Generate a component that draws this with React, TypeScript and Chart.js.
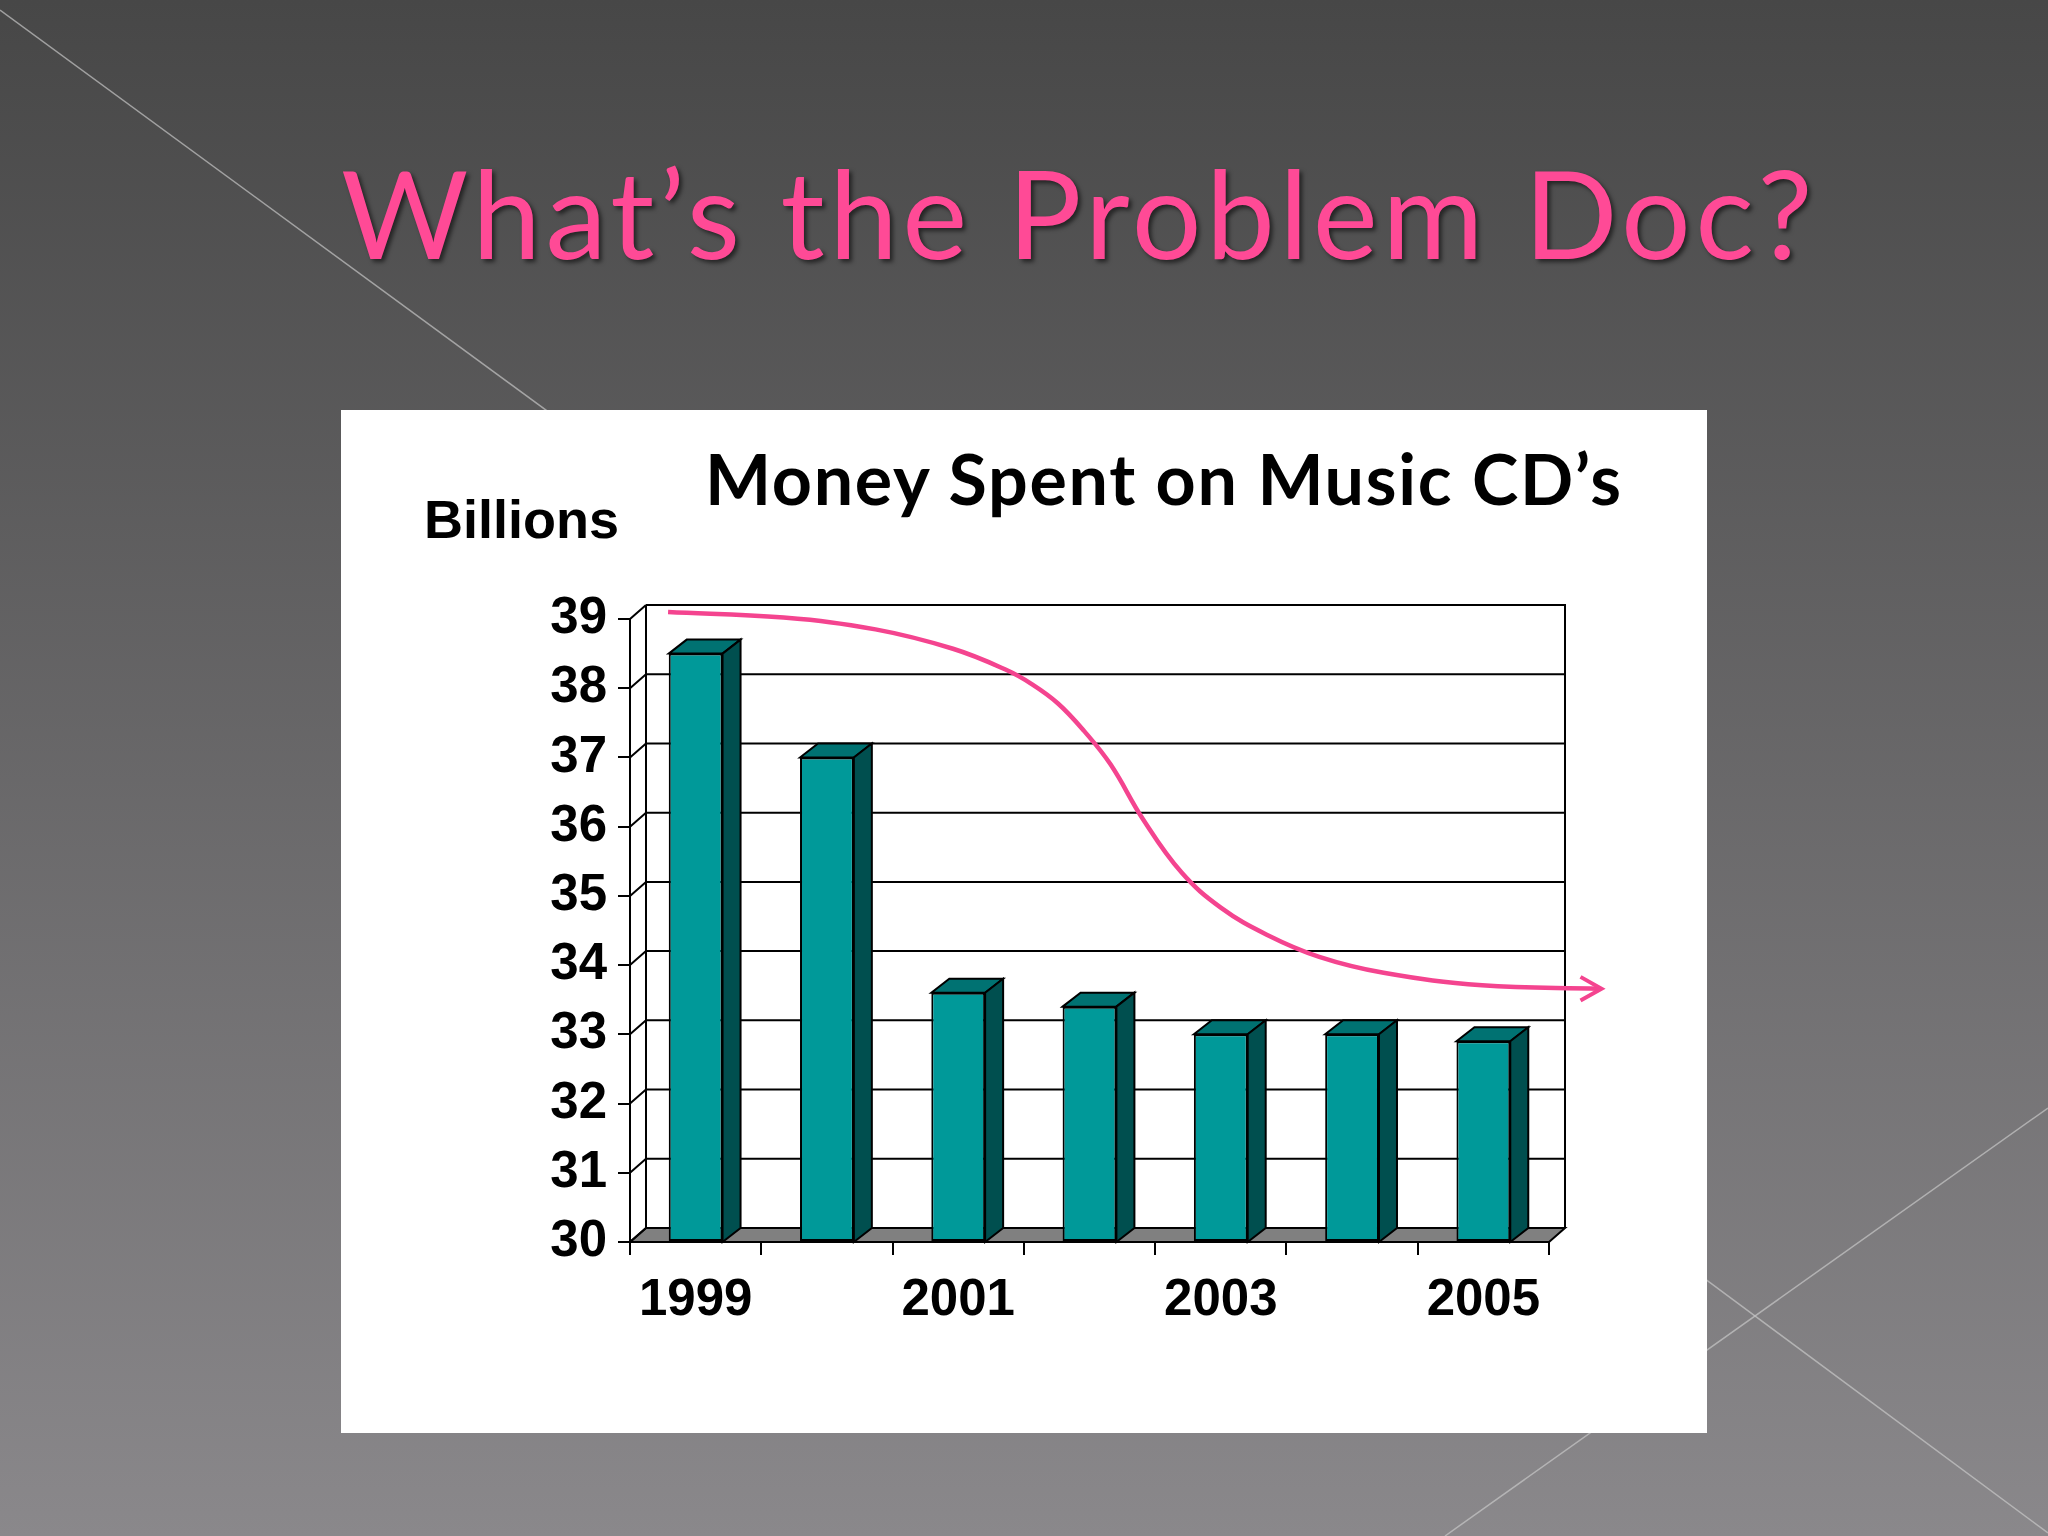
import React, { useEffect, useRef } from 'react';
import { Chart, registerables } from 'chart.js';

Chart.register(...registerables);

// ---- data ----
const years = ['1999', '2000', '2001', '2002', '2003', '2004', '2005'];
const spending = [38.5, 37.0, 33.6, 33.4, 33.0, 33.0, 32.9];
const Y_MIN = 30;
const Y_MAX = 39;
const Y_STEP = 1;
// hand-drawn trend curve, in category units (x) and billions (y)
const trendX = [-0.21, 0.67, 1.37, 1.96, 2.36, 2.56, 2.76, 2.96, 3.16, 3.41, 3.7, 4.0, 4.35, 4.75, 5.24, 5.99, 6.88];
const trendY = [39.1, 39.02, 38.85, 38.57, 38.27, 38.06, 37.78, 37.38, 36.9, 36.1, 35.34, 34.83, 34.44, 34.12, 33.89, 33.71, 33.66];
const arrowX = [6.74, 6.9, 6.74];
const arrowY = [33.83, 33.66, 33.49];

const slideTitle = 'What’s the Problem Doc?';
const chartTitle = 'Money Spent on Music CD’s';
const unitLabel = 'Billions';

const WALL_DX = 16;
const WALL_DY = -14;
const BAR_DX = 18;
const BAR_DY = -14;

const TICK_FONT = '"Liberation Sans", Arial, sans-serif';

const threeD = {
  id: 'threeD',
  beforeDatasetsDraw(chart: any) {
    const ctx = chart.ctx;
    const { left, right, top, bottom } = chart.chartArea;
    const ys = chart.scales.y;
    ctx.save();
    ctx.lineWidth = 2;
    ctx.strokeStyle = '#000';
    // floor
    ctx.beginPath();
    ctx.moveTo(left, bottom);
    ctx.lineTo(right, bottom);
    ctx.lineTo(right + WALL_DX, bottom + WALL_DY);
    ctx.lineTo(left + WALL_DX, bottom + WALL_DY);
    ctx.closePath();
    ctx.fillStyle = '#808080';
    ctx.fill();
    ctx.stroke();
    // back wall grid lines + side wall diagonals
    ys.ticks.forEach((t: any) => {
      const py = ys.getPixelForValue(t.value);
      ctx.beginPath();
      ctx.moveTo(left + WALL_DX, py + WALL_DY);
      ctx.lineTo(right + WALL_DX, py + WALL_DY);
      ctx.moveTo(left, py);
      ctx.lineTo(left + WALL_DX, py + WALL_DY);
      ctx.stroke();
    });
    // wall verticals
    ctx.beginPath();
    ctx.moveTo(left + WALL_DX, top + WALL_DY);
    ctx.lineTo(left + WALL_DX, bottom + WALL_DY);
    ctx.moveTo(right + WALL_DX, top + WALL_DY - 1);
    ctx.lineTo(right + WALL_DX, bottom + WALL_DY);
    ctx.stroke();
    ctx.restore();
  },
  afterDatasetDraw(chart: any, args: any) {
    if (args.index !== 0) return;
    const ctx = chart.ctx;
    const ys = chart.scales.y;
    const basePx = ys.getPixelForValue(Y_MIN);
    ctx.save();
    ctx.lineWidth = 2;
    ctx.strokeStyle = '#000';
    ctx.lineJoin = 'miter';
    args.meta.data.forEach((bar: any) => {
      const { x, y, width } = bar.getProps(['x', 'y', 'width']);
      const xl = x - width / 2;
      const xr = x + width / 2;
      // top face
      ctx.beginPath();
      ctx.moveTo(xl, y);
      ctx.lineTo(xl + BAR_DX, y + BAR_DY);
      ctx.lineTo(xr + BAR_DX, y + BAR_DY);
      ctx.lineTo(xr, y);
      ctx.closePath();
      ctx.fillStyle = '#007272';
      ctx.fill();
      ctx.stroke();
      // side face
      ctx.beginPath();
      ctx.moveTo(xr, y);
      ctx.lineTo(xr + BAR_DX, y + BAR_DY);
      ctx.lineTo(xr + BAR_DX, basePx + BAR_DY);
      ctx.lineTo(xr, basePx);
      ctx.closePath();
      ctx.fillStyle = '#004f4f';
      ctx.fill();
      ctx.stroke();
    });
    ctx.restore();
  },
};

export default function App() {
  const ref = useRef<HTMLCanvasElement>(null);

  useEffect(() => {
    const chart = new Chart(ref.current as HTMLCanvasElement, {
      type: 'bar',
      data: {
        labels: years,
        datasets: [
          {
            type: 'bar',
            label: 'Money spent',
            data: spending,
            base: Y_MIN,
            grouped: false,
            backgroundColor: '#009999',
            borderColor: '#000000',
            borderWidth: 2,
            borderSkipped: false,
            barPercentage: 0.41,
            categoryPercentage: 1,
            xAxisID: 'x',
            yAxisID: 'y',
            order: 3,
          } as any,
          {
            type: 'line',
            label: 'trend',
            data: trendX.map((v, i) => ({ x: v, y: trendY[i] })),
            borderColor: '#F4448F',
            borderWidth: 4.5,
            pointRadius: 0,
            tension: 0.4,
            fill: false,
            clip: false,
            xAxisID: 'x2',
            yAxisID: 'y',
            order: 2,
          } as any,
          {
            type: 'line',
            label: 'arrow',
            data: arrowX.map((v, i) => ({ x: v, y: arrowY[i] })),
            borderColor: '#F4448F',
            borderWidth: 4,
            pointRadius: 0,
            tension: 0,
            fill: false,
            clip: false,
            xAxisID: 'x2',
            yAxisID: 'y',
            order: 1,
          } as any,
        ],
      },
      options: {
        responsive: false,
        animation: false,
        events: [],
        layout: { padding: { top: 209, right: 158, left: 0, bottom: 0 } },
        plugins: {
          legend: { display: false },
          title: { display: false },
          tooltip: { enabled: false },
        },
        scales: {
          x: {
            type: 'category',
            position: 'bottom',
            offset: true,
            grid: {
              offset: true,
              drawOnChartArea: false,
              drawTicks: true,
              tickLength: 13,
              color: '#000',
              lineWidth: 2,
            },
            border: { display: true, color: '#000', width: 2 },
            ticks: {
              autoSkip: false,
              maxRotation: 0,
              padding: 15,
              color: '#000',
              font: { family: TICK_FONT, size: 51, weight: 'bold' },
              callback: (_v: any, i: number) => (i % 2 === 0 ? years[i] : ''),
            },
            afterFit: (s: any) => {
              s.height = 191;
            },
          },
          x2: {
            type: 'linear',
            display: false,
            offset: false,
            bounds: 'data',
            grid: { offset: false },
            min: -0.5,
            max: 6.5,
          },
          y: {
            type: 'linear',
            min: Y_MIN,
            max: Y_MAX,
            beginAtZero: false,
            ticks: {
              stepSize: Y_STEP,
              autoSkip: false,
              padding: 11,
              color: '#000',
              font: { family: TICK_FONT, size: 51, weight: 'bold' },
            },
            grid: {
              drawOnChartArea: false,
              drawTicks: true,
              tickLength: 12,
              color: '#000',
              lineWidth: 2,
            },
            border: { display: true, color: '#000', width: 2 },
            afterFit: (s: any) => {
              s.width = 289;
            },
          },
        },
      } as any,
      plugins: [threeD],
    });
    return () => chart.destroy();
  }, []);

  return (
    <div
      style={{
        position: 'absolute',
        left: 0,
        top: 0,
        width: 2048,
        height: 1536,
        overflow: 'hidden',
        background: 'linear-gradient(180deg, #474747 0%, #8a888b 100%)',
      }}
    >
      <svg width={2048} height={1536} style={{ position: 'absolute', left: 0, top: 0 }}>
        <line x1={0} y1={10} x2={700} y2={523} stroke="rgba(190,190,190,0.75)" strokeWidth={1.5} />
        <line x1={2048} y1={1108} x2={1445} y2={1536} stroke="rgba(200,200,200,0.7)" strokeWidth={1.5} />
        <line x1={1450} y1={1090} x2={2048} y2={1533} stroke="rgba(200,200,200,0.7)" strokeWidth={1.5} />
      </svg>
      <div
        style={{
          position: 'absolute',
          left: 341,
          top: 150,
          fontFamily: 'Lato, "Open Sans", sans-serif',
          fontWeight: 400,
          fontSize: 123,
          lineHeight: '123px',
          letterSpacing: '4.5px',
          color: '#FF4A96',
          whiteSpace: 'nowrap',
          textShadow: '3px 3px 4px rgba(0,0,0,0.55)',
        }}
      >
        {slideTitle}
      </div>
      <div
        style={{
          position: 'absolute',
          left: 341,
          top: 410,
          width: 1366,
          height: 1023,
          background: '#ffffff',
        }}
      >
        <canvas ref={ref} width={1366} height={1023} style={{ display: 'block', width: 1366, height: 1023 }} />
        <div
          style={{
            position: 'absolute',
            left: 364,
            top: 33,
            fontFamily: 'Lato, "Open Sans", sans-serif',
            fontWeight: 700,
            fontSize: 70,
            lineHeight: '70px',
            letterSpacing: '1.7px',
            color: '#000',
            whiteSpace: 'nowrap',
          }}
        >
          {chartTitle}
        </div>
        <div
          style={{
            position: 'absolute',
            left: 83,
            top: 82,
            fontFamily: '"Liberation Sans", Arial, sans-serif',
            fontWeight: 700,
            fontSize: 54,
            lineHeight: '54px',
            color: '#000',
            whiteSpace: 'nowrap',
          }}
        >
          {unitLabel}
        </div>
      </div>
    </div>
  );
}
